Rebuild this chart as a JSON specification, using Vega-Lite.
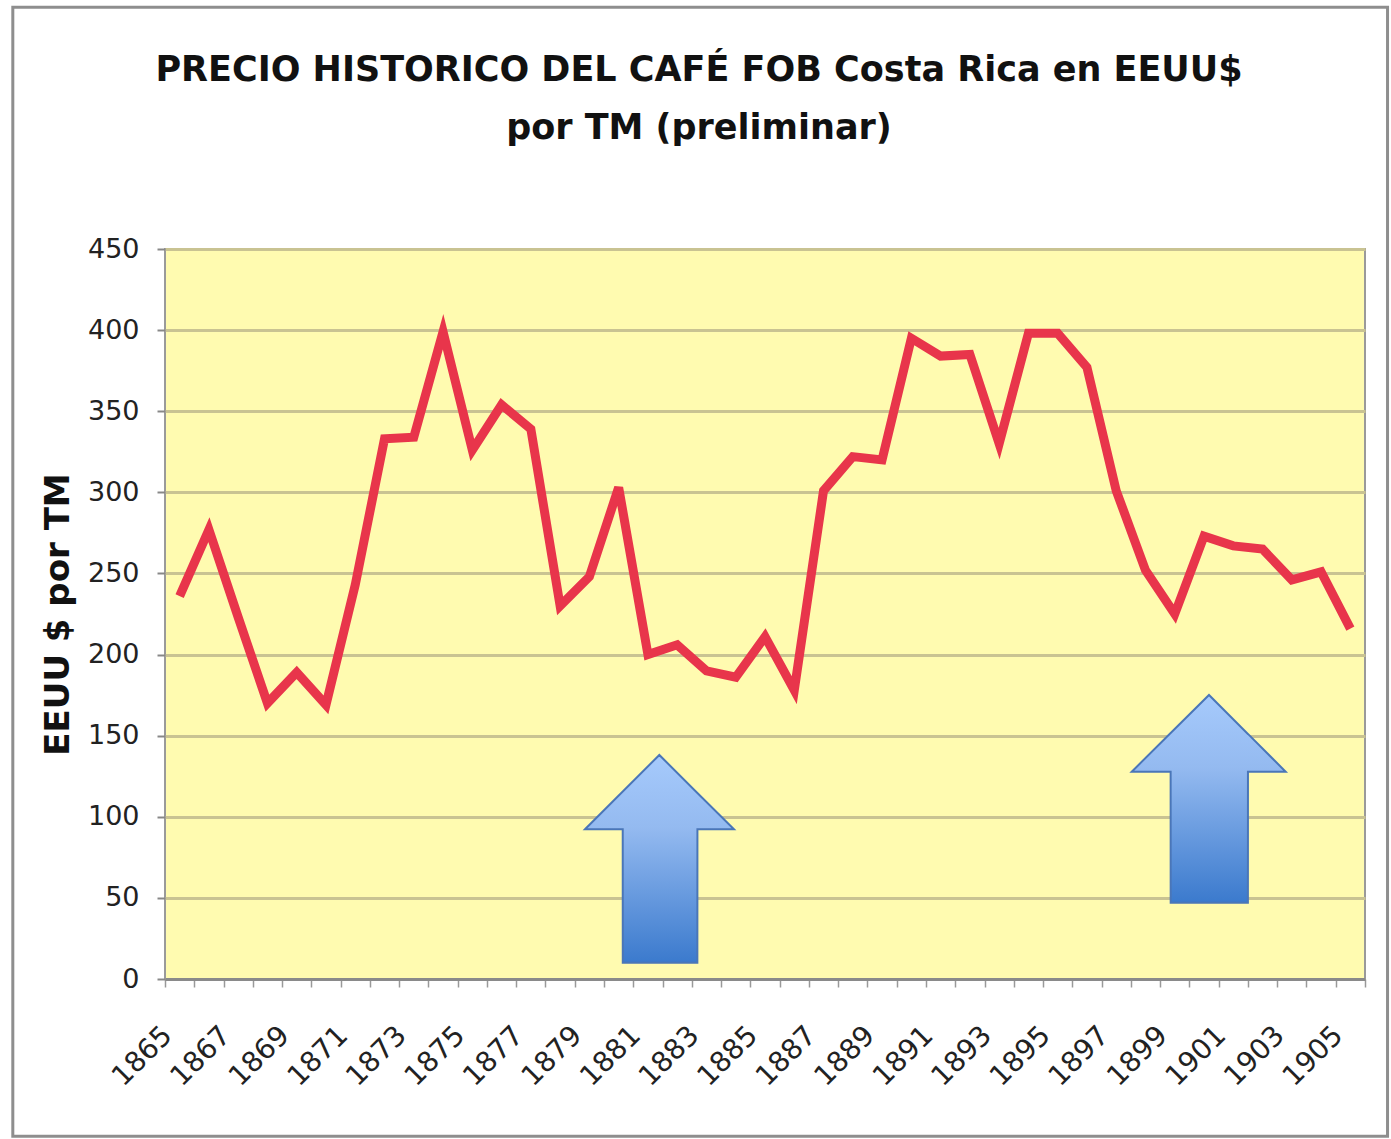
{
  "$schema": "https://vega.github.io/schema/vega-lite/v6.json",
  "width": 1200,
  "height": 730,
  "autosize": {"type": "none"},
  "padding": {"left": 165, "top": 249, "right": 26, "bottom": 160},
  "background": "#ffffff",
  "config": {
    "view": {"fill": "#fffbb0", "stroke": "#9a9a9a", "strokeWidth": 2},
    "font": "DejaVu Sans"
  },
  "title": {
    "text": ["PRECIO HISTORICO DEL CAFÉ FOB Costa Rica en EEUU$", "por TM (preliminar)"],
    "font": "DejaVu Sans",
    "fontSize": 35,
    "fontWeight": "bold",
    "color": "#111111",
    "lineHeight": 58,
    "anchor": "middle",
    "frame": "group",
    "dx": -66,
    "offset": -140
  },
  "datasets": {
    "precios": [
      {"year": 1865, "price": 236}, {"year": 1866, "price": 277}, {"year": 1867, "price": 223},
      {"year": 1868, "price": 170}, {"year": 1869, "price": 189}, {"year": 1870, "price": 169},
      {"year": 1871, "price": 243}, {"year": 1872, "price": 333}, {"year": 1873, "price": 334},
      {"year": 1874, "price": 399}, {"year": 1875, "price": 326}, {"year": 1876, "price": 354},
      {"year": 1877, "price": 339}, {"year": 1878, "price": 230}, {"year": 1879, "price": 248},
      {"year": 1880, "price": 303}, {"year": 1881, "price": 200}, {"year": 1882, "price": 206},
      {"year": 1883, "price": 190}, {"year": 1884, "price": 186}, {"year": 1885, "price": 211},
      {"year": 1886, "price": 178}, {"year": 1887, "price": 301}, {"year": 1888, "price": 322},
      {"year": 1889, "price": 320}, {"year": 1890, "price": 395}, {"year": 1891, "price": 384},
      {"year": 1892, "price": 385}, {"year": 1893, "price": 330}, {"year": 1894, "price": 398},
      {"year": 1895, "price": 398}, {"year": 1896, "price": 377}, {"year": 1897, "price": 301},
      {"year": 1898, "price": 252}, {"year": 1899, "price": 225}, {"year": 1900, "price": 273},
      {"year": 1901, "price": 267}, {"year": 1902, "price": 265}, {"year": 1903, "price": 246},
      {"year": 1904, "price": 251}, {"year": 1905, "price": 216}
    ],
    "flechas": [
      {"arrow": "A", "ax": 1878.85, "top": 92.3, "bot": 92.3},
      {"arrow": "A", "ax": 1880.139, "top": 115.6, "bot": 92.3},
      {"arrow": "A", "ax": 1880.141, "top": 115.6, "bot": 10.0},
      {"arrow": "A", "ax": 1881.39, "top": 138.1, "bot": 10.0},
      {"arrow": "A", "ax": 1882.689, "top": 114.7, "bot": 10.0},
      {"arrow": "A", "ax": 1882.691, "top": 114.7, "bot": 92.3},
      {"arrow": "A", "ax": 1883.94, "top": 92.3, "bot": 92.3},
      {"arrow": "B", "ax": 1897.53, "top": 127.8, "bot": 127.8},
      {"arrow": "B", "ax": 1898.859, "top": 151.6, "bot": 127.8},
      {"arrow": "B", "ax": 1898.861, "top": 151.6, "bot": 47.0},
      {"arrow": "B", "ax": 1900.17, "top": 175.1, "bot": 47.0},
      {"arrow": "B", "ax": 1901.499, "top": 151.1, "bot": 47.0},
      {"arrow": "B", "ax": 1901.501, "top": 151.1, "bot": 127.8},
      {"arrow": "B", "ax": 1902.79, "top": 127.8, "bot": 127.8}
    ]
  },
  "resolve": {"axis": {"x": "independent"}},
  "layer": [
    {
      "data": {"values": [{}]},
      "mark": {"type": "rect", "fill": null, "fillOpacity": 0, "stroke": "#8e8e8e", "strokeWidth": 3, "clip": false},
      "encoding": {
        "x": {"datum": 1859.3, "type": "quantitative", "scale": {"domain": [1864.5, 1905.5], "nice": false, "zero": false}, "axis": null},
        "x2": {"datum": 1906.27},
        "y": {
          "datum": 599, "type": "quantitative",
          "scale": {"domain": [0, 450], "nice": false, "zero": true},
          "axis": {
            "title": "EEUU $ por TM",
            "titleFont": "DejaVu Sans",
            "titleFontSize": 34,
            "titleFontWeight": "bold",
            "titleColor": "#111111",
            "titlePadding": 12,
            "values": [0, 50, 100, 150, 200, 250, 300, 350, 400, 450],
            "labelFont": "DejaVu Sans",
            "labelFontSize": 27,
            "labelColor": "#222222",
            "labelPadding": 18,
            "tickSize": 8,
            "tickColor": "#888888",
            "tickWidth": 2,
            "domain": false,
            "grid": true,
            "gridColor": "#c9c392",
            "gridWidth": 3
          }
        },
        "y2": {"datum": -97}
      }
    },
    {
      "data": {"name": "flechas"},
      "mark": {
        "type": "area",
        "orient": "vertical",
        "stroke": "#4a76b8",
        "strokeWidth": 2,
        "fill": {
          "gradient": "linear", "x1": 0, "y1": 0, "x2": 0, "y2": 1,
          "stops": [
            {"offset": 0, "color": "#a6cafc"},
            {"offset": 0.35, "color": "#94baf0"},
            {"offset": 1, "color": "#3b7acd"}
          ]
        }
      },
      "encoding": {
        "x": {
          "field": "ax", "type": "quantitative",
          "scale": {"domain": [1864.5, 1905.5], "nice": false, "zero": false},
          "axis": {
            "orient": "bottom",
            "title": null,
            "values": [1864.5, 1865.5, 1866.5, 1867.5, 1868.5, 1869.5, 1870.5, 1871.5, 1872.5, 1873.5, 1874.5, 1875.5, 1876.5, 1877.5, 1878.5, 1879.5, 1880.5, 1881.5, 1882.5, 1883.5, 1884.5, 1885.5, 1886.5, 1887.5, 1888.5, 1889.5, 1890.5, 1891.5, 1892.5, 1893.5, 1894.5, 1895.5, 1896.5, 1897.5, 1898.5, 1899.5, 1900.5, 1901.5, 1902.5, 1903.5, 1904.5, 1905.5],
            "labels": false,
            "ticks": true,
            "tickSize": 8,
            "tickColor": "#999999",
            "tickWidth": 1.5,
            "domain": true,
            "domainColor": "#8a8a8a",
            "domainWidth": 3,
            "grid": false
          }
        },
        "y": {
          "field": "top", "type": "quantitative",
          "scale": {"domain": [0, 450], "nice": false, "zero": true},
          "axis": {
            "title": "EEUU $ por TM",
            "titleFont": "DejaVu Sans",
            "titleFontSize": 34,
            "titleFontWeight": "bold",
            "titleColor": "#111111",
            "titlePadding": 12,
            "values": [0, 50, 100, 150, 200, 250, 300, 350, 400, 450],
            "labelFont": "DejaVu Sans",
            "labelFontSize": 27,
            "labelColor": "#222222",
            "labelPadding": 18,
            "tickSize": 8,
            "tickColor": "#888888",
            "tickWidth": 2,
            "domain": false,
            "grid": true,
            "gridColor": "#c9c392",
            "gridWidth": 3
          }
        },
        "y2": {"field": "bot"},
        "detail": {"field": "arrow", "type": "nominal"}
      }
    },
    {
      "data": {"name": "precios"},
      "mark": {"type": "line", "color": "#e8354b", "strokeWidth": 9, "strokeJoin": "miter"},
      "encoding": {
        "x": {
          "field": "year", "type": "quantitative",
          "scale": {"domain": [1864.5, 1905.5], "nice": false, "zero": false},
          "axis": {
            "orient": "bottom",
            "title": null,
            "values": [1865, 1867, 1869, 1871, 1873, 1875, 1877, 1879, 1881, 1883, 1885, 1887, 1889, 1891, 1893, 1895, 1897, 1899, 1901, 1903, 1905],
            "format": "d",
            "labelAngle": -45,
            "labelFont": "DejaVu Sans",
            "labelFontSize": 28,
            "labelColor": "#222222",
            "labelPadding": 42,
            "labelOffset": -22,
            "ticks": false,
            "domain": false,
            "grid": false,
            "labelOverlap": false
          }
        },
        "y": {
          "field": "price", "type": "quantitative",
          "scale": {"domain": [0, 450], "nice": false, "zero": true},
          "axis": {
            "title": "EEUU $ por TM",
            "titleFont": "DejaVu Sans",
            "titleFontSize": 34,
            "titleFontWeight": "bold",
            "titleColor": "#111111",
            "titlePadding": 12,
            "values": [0, 50, 100, 150, 200, 250, 300, 350, 400, 450],
            "labelFont": "DejaVu Sans",
            "labelFontSize": 27,
            "labelColor": "#222222",
            "labelPadding": 18,
            "tickSize": 8,
            "tickColor": "#888888",
            "tickWidth": 2,
            "domain": false,
            "grid": true,
            "gridColor": "#c9c392",
            "gridWidth": 3
          }
        }
      }
    }
  ]
}
